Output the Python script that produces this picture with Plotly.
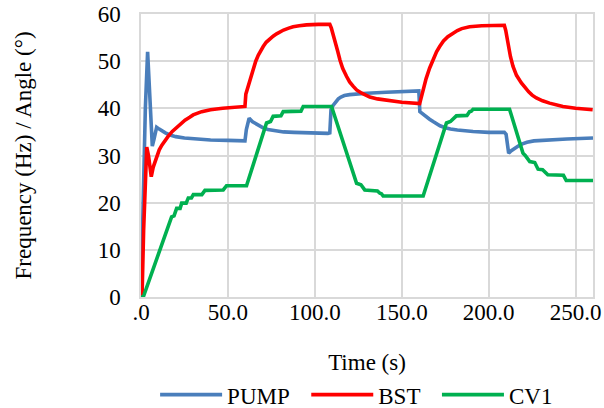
import plotly.graph_objects as go

# PUMP
pump_t = [0, 1.2, 2.5, 3.8, 5.0, 6.5, 7.5, 9.0, 10.5, 12, 14, 16.3, 20, 25, 31.6, 40, 50, 59.8,
          60.6, 62.2, 64, 66, 68, 70, 73, 77, 82, 88, 95, 107.5,
          108.6, 109.3, 110.5, 112, 113.5, 115, 117, 120, 125, 130, 141, 150, 159.8,
          160.4, 162, 164, 166, 168, 170, 172, 175, 178, 182, 186, 191, 200, 209,
          210, 211.5, 213, 215, 217, 219, 222, 226, 233, 245, 260]
pump_v = [0, 22, 40, 52.0, 42, 32.0, 33.5, 36.0, 35.6, 35.2, 34.8, 34.4, 34.0, 33.7, 33.5, 33.3, 33.2, 33.1,
          35.5, 37.9, 37.2, 36.7, 36.2, 35.9, 35.5, 35.2, 35.0, 34.9, 34.8, 34.7,
          34.8, 39.7, 40.6, 41.4, 42.0, 42.4, 42.7, 42.9, 43.1, 43.2, 43.4, 43.5, 43.7,
          39.3, 38.8, 38.3, 37.7, 37.2, 36.7, 36.3, 35.9, 35.6, 35.4, 35.2, 35.1, 34.9, 34.9,
          34.5, 30.5, 31.0, 31.6, 32.0, 32.4, 32.8, 33.1, 33.3, 33.5, 33.7]

# BST
bst_t = [0, 0.6, 1.5, 2.5, 3.3, 4.3, 5.9, 7.0, 9, 10.5, 12, 14, 15.7, 18, 20, 22.5, 25.3, 28, 30, 34.9, 40, 47, 54, 59.8,
         60.3, 61.7, 63, 64.5, 66, 67.5, 69, 70.3, 72, 74, 76, 78, 80, 82, 85, 87.5, 91, 95.2, 102, 108.6,
         109.5, 110.5, 111.5, 113, 114.4, 116, 118.2, 120, 122, 124, 127, 131.6, 136, 141.2, 150, 160.3,
         161.2, 162.5, 164, 166, 168, 170, 171.8, 174, 176.5, 179.5, 182, 184.5, 189, 196, 209,
         209.8, 210.5, 211.2, 212.5, 214, 216, 218.8, 221, 223, 225, 227.4, 231, 235, 242.7, 250, 259.8]
bst_v = [0, 0, 14, 26, 31.8, 30.0, 25.5, 27.5, 30.0, 31.2, 32.2, 33.3, 34.1, 35.1, 35.8, 36.7, 37.5, 38.1, 38.6, 39.3, 39.7, 40.0, 40.2, 40.4,
         43.0, 44.7, 46.8, 48.6, 50.0, 51.3, 52.4, 53.1, 54.0, 54.7, 55.3, 55.8, 56.3, 56.6, 57.0, 57.3, 57.5, 57.7, 57.8, 57.8,
         57.0, 55.8, 54.6, 52.3, 50.3, 48.5, 46.8, 45.6, 44.7, 43.9, 43.2, 42.4, 42.0, 41.7, 41.3, 41.0,
         42.5, 44.5, 46.3, 48.5, 50.5, 52.0, 53.1, 54.3, 55.2, 56.0, 56.5, 56.9, 57.3, 57.5, 57.6,
         56.5, 55.0, 53.1, 51.0, 48.9, 47.0, 45.4, 44.3, 43.5, 42.8, 42.2, 41.6, 41.1, 40.4, 40.0, 39.7]

# CV1
cv1_t = [0, 1.3, 17.6, 19, 20.5, 22.5, 23.4, 26, 27.2, 29, 30.1, 35, 36.8, 47.3, 49.2, 60.7,
         72.2, 74.5, 76, 80.5, 81.8, 92, 93.3, 109.6,
         124, 126.5, 128.7, 136, 137.4, 138.3, 139.3, 162.3,
         175.7, 178, 181.4, 187.5, 189, 190, 191, 212,
         219.7, 221, 223.6, 226.5, 228.4, 231, 234, 243, 244.6, 260]
cv1_v = [0, 0, 17.0, 17.2, 18.8, 18.8, 19.9, 19.9, 21.0, 21.0, 21.7, 21.7, 22.6, 22.7, 23.6, 23.6,
         36.9, 37.2, 38.3, 38.4, 39.3, 39.4, 40.4, 40.4,
         24.1, 23.8, 22.7, 22.5, 22.0, 21.9, 21.4, 21.4,
         36.9, 37.2, 38.4, 38.5, 39.3, 39.4, 39.8, 39.8,
         30.5, 30.0, 28.7, 28.5, 27.1, 27.0, 25.9, 25.8, 24.7, 24.7]

x_ticks = [0, 50, 100, 150, 200, 250]
x_tick_text = [".0", "50.0", "100.0", "150.0", "200.0", "250.0"]
y_ticks = [0, 10, 20, 30, 40, 50, 60]
series_names = ["PUMP", "BST", "CV1"]

FONT = "Liberation Serif, Times New Roman, serif"
FS = 23
TF = dict(family=FONT, size=FS, color="black")
NB = "\u00a0"
fig = go.Figure()
fig.add_trace(go.Scatter(x=pump_t, y=pump_v, mode="lines", name=series_names[0] + NB + NB,
                         line=dict(color="#4A7EBB", width=3.6)))
fig.add_trace(go.Scatter(x=bst_t, y=bst_v, mode="lines", name=series_names[1] + NB + NB,
                         line=dict(color="#FF0000", width=3.6)))
fig.add_trace(go.Scatter(x=cv1_t, y=cv1_v, mode="lines", name=series_names[2],
                         line=dict(color="#00B050", width=3.6)))

fig.update_layout(
    width=604, height=408,
    margin=dict(l=141, r=11, t=14, b=111, autoexpand=False),
    paper_bgcolor="white", plot_bgcolor="white",
    font=TF,
    showlegend=True,
    legend=dict(orientation="h", x=0.477, xanchor="center", y=-0.345, yanchor="middle",
                font=TF, itemwidth=62, tracegroupgap=0),
)
fig.update_xaxes(range=[0, 260], tickvals=x_ticks, ticktext=x_tick_text, automargin=False,
                 tickfont=TF,
                 showgrid=True, gridcolor="#D9D9D9", gridwidth=1.5,
                 showline=True, linecolor="#D9D9D9", linewidth=1.5, mirror=True,
                 zeroline=False, ticks="", ticklabelstandoff=-6,
                 title=dict(text="Time (s)", standoff=30, font=TF))
fig.update_yaxes(range=[0, 60], tickvals=y_ticks, automargin=False,
                 tickfont=TF,
                 showgrid=True, gridcolor="#D9D9D9", gridwidth=1.5,
                 showline=True, linecolor="#D9D9D9", linewidth=1.5, mirror=True,
                 zeroline=False, ticks="", ticklabelstandoff=14,
                 title=dict(text="Frequency (Hz) / Angle (°)", standoff=60, font=TF))

fig.write_html("out.html", config={"displayModeBar": False},
               post_script="document.body.style.margin='0';document.body.style.padding='0';")
